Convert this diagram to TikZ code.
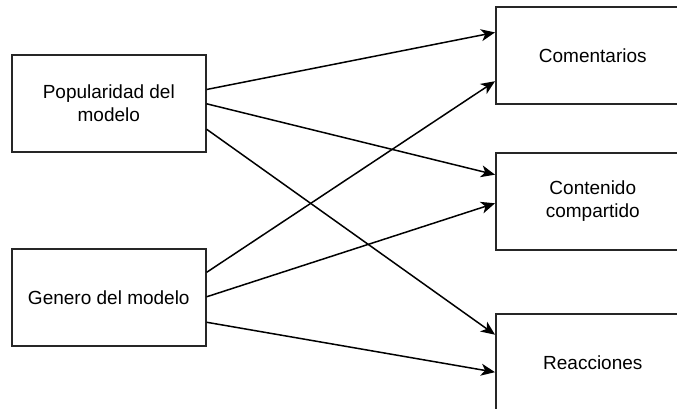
\documentclass[tikz,border=0pt]{standalone}
\usepackage{fontspec}
\setmainfont{Liberation Sans}
\usetikzlibrary{arrows.meta,calc}
\begin{document}
\begin{tikzpicture}[x=1pt,y=-1pt,
  box/.style={draw=black!85,line width=1.6pt,rectangle,minimum width=194pt,minimum height=97pt,inner sep=0pt,anchor=north west,align=center,font=\fontsize{19}{23}\selectfont},
  conn/.style={line width=1.5pt,-{Stealth[length=14pt,width=12pt,inset=4pt]}}]
\useasboundingbox (0,0) rectangle (677,409);
\clip (0,0) rectangle (677,409);
\node[box] (pop) at (11,54) {Popularidad del\\modelo};
\node[box] (gen) at (11,248) {Genero del modelo};
\node[box] (com) at (495,6) {Comentarios};
\node[box] (con) at (495,152) {Contenido\\compartido};
\node[box] (rea) at (495,313) {Reacciones};
\draw[conn] ($(pop.north east)!0.36!(pop.south east)$) -- ($(com.north west)!0.268!(com.south west)$);
\draw[conn] ($(pop.north east)!0.505!(pop.south east)$) -- ($(con.north west)!0.23!(con.south west)$);
\draw[conn] ($(pop.north east)!0.763!(pop.south east)$) -- ($(rea.north west)!0.22!(rea.south west)$);
\draw[conn] ($(gen.north east)!0.247!(gen.south east)$) -- ($(com.north west)!0.763!(com.south west)$);
\draw[conn] ($(gen.north east)!0.495!(gen.south east)$) -- ($(con.north west)!0.52!(con.south west)$);
\draw[conn] ($(gen.north east)!0.753!(gen.south east)$) -- ($(rea.north west)!0.6!(rea.south west)$);
\end{tikzpicture}
\end{document}
